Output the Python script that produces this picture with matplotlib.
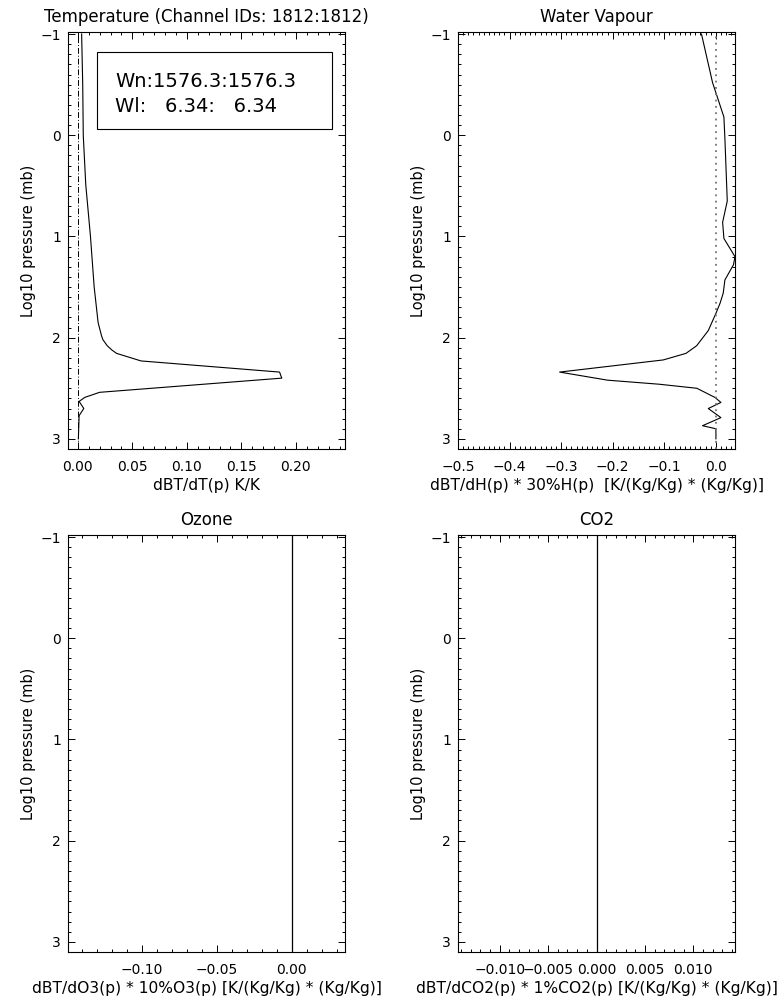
import numpy as np
import matplotlib
matplotlib.use("Agg")
import matplotlib.pyplot as plt
from matplotlib.ticker import MultipleLocator, FuncFormatter
from matplotlib.patches import Rectangle

# --- Jacobian profiles (y = log10 pressure, mb) ---
t_logp = [-1.0, -0.5, 0.0, 0.49, 1.0, 1.5, 1.85, 1.98, 2.02, 2.08, 2.12, 2.155,
          2.23, 2.34, 2.40, 2.54, 2.59, 2.63, 2.70, 2.77, 3.0]
t_jac = [0.0035, 0.0045, 0.005, 0.0073, 0.0116, 0.015, 0.0186, 0.0217, 0.023,
         0.027, 0.031, 0.0355, 0.058, 0.185, 0.187, 0.020, 0.0064, 0.0012,
         0.0055, 0.0012, 0.0005]

wv_logp = [-1.0, -0.52, -0.18, 0.03, 0.65, 0.86, 1.02, 1.2, 1.28, 1.43, 1.56,
           1.66, 1.76, 1.93, 2.08, 2.155, 2.22, 2.34, 2.42, 2.46, 2.50, 2.59,
           2.64, 2.70, 2.79, 2.87, 2.90, 3.0]
wv_jac = [-0.028, -0.0065, 0.0155, 0.0174, 0.022, 0.013, 0.0155, 0.037, 0.034,
          0.0174, 0.0142, 0.008, 0.0, -0.0148, -0.0374, -0.058, -0.102, -0.303,
          -0.21, -0.11, -0.037, -0.002, 0.0097, -0.0148, 0.0097, -0.026, 0.0,
          0.0]

o3_logp = [-1.2, 3.2]
o3_jac = [0.0, 0.0]

co2_logp = [-1.2, 3.2]
co2_jac = [0.0, 0.0]

wn_text = "Wn:1576.3:1576.3"
wl_text = "Wl:   6.34:   6.34"

plt.rcParams['font.family'] = ['DejaVu Sans']
plt.rcParams['axes.linewidth'] = 0.8

fig = plt.figure(figsize=(7.81, 9.98), dpi=100)

W, H = 781.0, 998.0
def make_ax(left, top, right, bottom):
    return fig.add_axes([left / W, 1 - bottom / H, (right - left) / W, (bottom - top) / H])

ax_t = make_ax(68, 32, 345, 449)
ax_wv = make_ax(458, 32, 735, 449)
ax_o3 = make_ax(68, 535, 345, 952)
ax_co2 = make_ax(458, 535, 735, 952)

def minus_fmt(nd):
    return FuncFormatter(lambda v, pos: f"{v:.{nd}f}".replace("-", "\u2212")
                         if abs(v) > 1e-12 else f"{0:.{nd}f}")

def style(ax, major, minor, nd):
    ax.set_ylim(3.1, -1.02)
    ax.yaxis.set_major_locator(MultipleLocator(1))
    ax.yaxis.set_minor_locator(MultipleLocator(0.1))
    ax.xaxis.set_major_locator(MultipleLocator(major))
    ax.xaxis.set_minor_locator(MultipleLocator(minor))
    ax.xaxis.set_major_formatter(minus_fmt(nd))
    ax.tick_params(which='both', direction='in', top=True, right=True,
                   width=0.7, labelsize=10)
    ax.tick_params(axis='x', pad=8)
    ax.tick_params(axis='y', pad=5)
    ax.tick_params(which='major', length=5)
    ax.tick_params(which='minor', length=2.5)
    ax.set_ylabel("Log10 pressure (mb)", fontsize=10.5, labelpad=3)

# Temperature
ax_t.plot(t_jac, t_logp, color='black', lw=0.8)
ax_t.axvline(0, color='black', lw=0.7, linestyle=(0, (6, 2, 1, 2)))
ax_t.set_xlim(-0.009, 0.245)
style(ax_t, 0.05, 0.01, 2)
ax_t.set_title("Temperature (Channel IDs: 1812:1812)", fontsize=12, pad=7)
ax_t.set_xlabel("dBT/dT(p) K/K", fontsize=11.2, labelpad=3)
ax_t.add_patch(Rectangle((0.106, 0.7685), 0.846, 0.1845, transform=ax_t.transAxes,
                         fill=False, lw=0.8, edgecolor='black'))
ax_t.text(0.17, 0.881, wn_text, transform=ax_t.transAxes, fontsize=14,
          va='center', ha='left')
ax_t.text(0.17, 0.821, wl_text, transform=ax_t.transAxes, fontsize=14,
          va='center', ha='left')

# Water vapour
ax_wv.plot(wv_jac, wv_logp, color='black', lw=0.8)
ax_wv.axvline(0, color='0.45', lw=1.3, linestyle=(0, (1, 2.5)))
ax_wv.set_xlim(-0.5, 0.037)
style(ax_wv, 0.1, 0.01, 1)
ax_wv.set_title("Water Vapour", fontsize=12, pad=7)
ax_wv.set_xlabel("dBT/dH(p) * 30%H(p)  [K/(Kg/Kg) * (Kg/Kg)]", fontsize=11.2, labelpad=3)

# Ozone
ax_o3.plot(o3_jac, o3_logp, color='black', lw=0.9)
ax_o3.set_xlim(-0.1495, 0.0355)
style(ax_o3, 0.05, 0.01, 2)
ax_o3.set_title("Ozone", fontsize=12, pad=7)
ax_o3.set_xlabel("dBT/dO3(p) * 10%O3(p) [K/(Kg/Kg) * (Kg/Kg)]", fontsize=11.2, labelpad=3)

# CO2
ax_co2.plot(co2_jac, co2_logp, color='black', lw=0.9)
ax_co2.set_xlim(-0.0143, 0.0143)
style(ax_co2, 0.005, 0.001, 3)
ax_co2.set_title("CO2", fontsize=12, pad=7)
ax_co2.set_xlabel("dBT/dCO2(p) * 1%CO2(p) [K/(Kg/Kg) * (Kg/Kg)]", fontsize=11.2, labelpad=3)

fig.savefig("out.png", dpi=100)
